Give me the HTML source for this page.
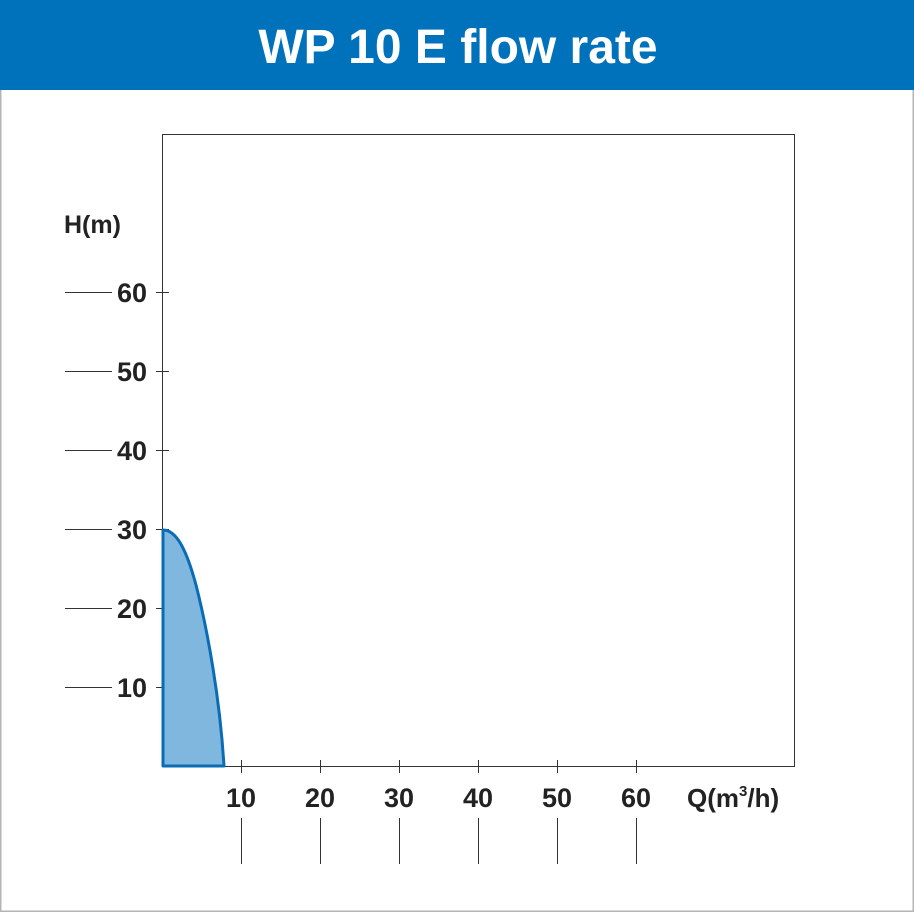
<!DOCTYPE html>
<html><head><meta charset="utf-8"><style>
body{margin:0;background:#fff}
svg{display:block}
text{font-family:"Liberation Sans",Arial,sans-serif;font-weight:bold;fill:#222}
</style></head><body>
<svg width="914" height="912" viewBox="0 0 914 912">
<rect x="0.75" y="0.75" width="912.5" height="910.5" fill="#fff" stroke="#b5b5b5" stroke-width="1.5"/>
<rect x="0" y="0" width="914" height="90" fill="#0071bb"/>
<text x="458" y="63" text-anchor="middle" font-size="48" style="fill:#fff">WP 10 E flow rate</text>
<rect x="162.5" y="134.5" width="632" height="632" fill="none" stroke="#333" stroke-width="1"/>
<g stroke="#333" stroke-width="1">
<line x1="65" y1="292.5" x2="112" y2="292.5"/><line x1="156" y1="292.5" x2="169" y2="292.5"/>
<line x1="65" y1="371.5" x2="112" y2="371.5"/><line x1="156" y1="371.5" x2="169" y2="371.5"/>
<line x1="65" y1="450.5" x2="112" y2="450.5"/><line x1="156" y1="450.5" x2="169" y2="450.5"/>
<line x1="65" y1="529.5" x2="112" y2="529.5"/><line x1="156" y1="529.5" x2="169" y2="529.5"/>
<line x1="65" y1="608.5" x2="112" y2="608.5"/><line x1="156" y1="608.5" x2="169" y2="608.5"/>
<line x1="65" y1="687.5" x2="112" y2="687.5"/><line x1="156" y1="687.5" x2="169" y2="687.5"/>
<line x1="241.5" y1="760" x2="241.5" y2="773"/><line x1="241.5" y1="818" x2="241.5" y2="864"/>
<line x1="320.5" y1="760" x2="320.5" y2="773"/><line x1="320.5" y1="818" x2="320.5" y2="864"/>
<line x1="399.5" y1="760" x2="399.5" y2="773"/><line x1="399.5" y1="818" x2="399.5" y2="864"/>
<line x1="478.5" y1="760" x2="478.5" y2="773"/><line x1="478.5" y1="818" x2="478.5" y2="864"/>
<line x1="557.5" y1="760" x2="557.5" y2="773"/><line x1="557.5" y1="818" x2="557.5" y2="864"/>
<line x1="636.5" y1="760" x2="636.5" y2="773"/><line x1="636.5" y1="818" x2="636.5" y2="864"/>
</g>
<g font-size="27" text-anchor="end">
<text x="147" y="302">60</text><text x="147" y="381">50</text><text x="147" y="460">40</text>
<text x="147" y="539">30</text><text x="147" y="618">20</text><text x="147" y="697">10</text>
</g>
<text x="64" y="233" font-size="25">H(m)</text>
<g font-size="27" text-anchor="middle">
<text x="241" y="807">10</text><text x="320" y="807">20</text><text x="399" y="807">30</text>
<text x="478" y="807">40</text><text x="557" y="807">50</text><text x="636" y="807">60</text>
</g>
<text x="687" y="807" font-size="26">Q(m<tspan font-size="15" dy="-11">3</tspan><tspan dy="11">/h)</tspan></text>
<path d="M163,766 L163,530 C176,530 186,548 196,585 C208,632 220,700 224,766 Z" fill="#7fb7df" stroke="#0a6cb4" stroke-width="3" stroke-linejoin="round"/>
</svg>
</body></html>
